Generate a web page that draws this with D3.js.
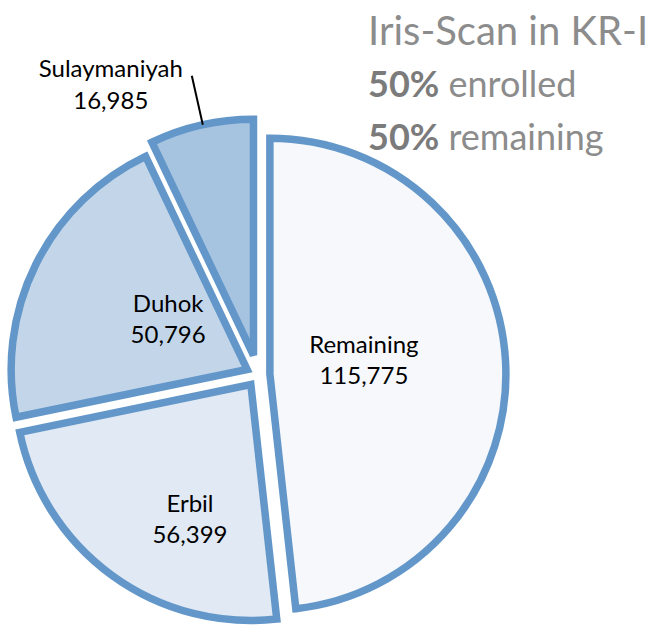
<!DOCTYPE html>
<html>
<head>
<meta charset="utf-8">
<script src="https://cdn.jsdelivr.net/npm/d3@7"></script>
<style>
  html, body { margin: 0; padding: 0; background: #ffffff; }
  svg { display: block; }
</style>
</head>
<body>
<svg id="chart" width="647" height="625"></svg>
<script>
// ---- data ----
const categories = ["Remaining", "Erbil", "Duhok", "Sulaymaniyah"];
const values = [115775, 56399, 50796, 16985];
const fills = ["#f6f8fc", "#e0e9f4", "#c3d6e9", "#a6c3e0"];
const titleLine = "Iris-Scan in KR-I";
const summaryPct = ["50%", "50%"];
const summaryText = ["enrolled", "remaining"];

// ---- layout ----
const W = 647, H = 625;
const center = [257.9, 374.8];
const radius = 236;
const explode = [12, 12, 12, 20];
const strokeColor = "#6397c9";
const strokeW = 7.5;
// label placement: fraction of radius and angle (deg, clockwise from 12 o'clock) from slice vertex
const labelPlace = [
  { frac: 0.403, angle: 81.2 },
  { frac: 0.627, angle: 204.3 },
  { frac: 0.397, angle: 302.5 },
  null
];

const svg = d3.select("#chart");
const fmt = d3.format(",");

const pie = d3.pie().sort(null).value(d => d.value);
const arcs = pie(categories.map((c, i) => ({ name: c, value: values[i], i })));
const arc = d3.arc().innerRadius(0).outerRadius(radius);

const toRad = Math.PI / 180;
function offset(angleRad, dist) {
  return [Math.sin(angleRad) * dist, -Math.cos(angleRad) * dist];
}

const g = svg.append("g").attr("transform", `translate(${center[0]},${center[1]})`);

const slices = g.selectAll("g.slice")
  .data(arcs)
  .join("g")
  .attr("class", "slice")
  .attr("transform", d => {
    const mid = (d.startAngle + d.endAngle) / 2;
    const [dx, dy] = offset(mid, explode[d.data.i]);
    return `translate(${dx},${dy})`;
  });

slices.append("path")
  .attr("d", arc)
  .attr("fill", d => fills[d.data.i])
  .attr("stroke", strokeColor)
  .attr("stroke-width", strokeW)
  .attr("stroke-linejoin", "miter");

const fontFam = "Lato, 'Open Sans', sans-serif";

// inside labels
slices.each(function(d) {
  const lp = labelPlace[d.data.i];
  if (!lp) return;
  const [lx, ly] = offset(lp.angle * toRad, lp.frac * radius);
  const t = d3.select(this).append("text")
    .attr("text-anchor", "middle")
    .attr("font-family", fontFam)
    .attr("font-size", 24)
    .attr("fill", "#000");
  t.append("tspan").attr("x", lx).attr("y", ly - 7).text(d.data.name);
  t.append("tspan").attr("x", lx).attr("y", ly + 24).text(fmt(d.data.value));
});

// outside label for Sulaymaniyah with leader line
{
  const d = arcs[3];
  const mid = (d.startAngle + d.endAngle) / 2;
  const [ex, ey] = offset(mid, explode[3]);
  const a = -12.4 * toRad;
  const [px, py] = offset(a, radius);
  const sx = center[0] + ex + px, sy = center[1] + ey + py;
  svg.append("line")
    .attr("x1", sx).attr("y1", sy)
    .attr("x2", sx - 11).attr("y2", sy - 49)
    .attr("stroke", "#000").attr("stroke-width", 2);
  const lx = sx - 92, ly = sy - 41;
  const t = svg.append("text")
    .attr("text-anchor", "middle")
    .attr("font-family", fontFam)
    .attr("font-size", 24)
    .attr("fill", "#000");
  t.append("tspan").attr("x", lx).attr("y", ly - 7).text(d.data.name);
  t.append("tspan").attr("x", lx).attr("y", ly + 25).text(fmt(d.data.value));
}

// title block
const tx = 368;
svg.append("text")
  .attr("x", tx).attr("y", 45)
  .attr("font-family", fontFam)
  .attr("font-size", 40)
  .attr("fill", "#8c8c8c")
  .text(titleLine);

summaryPct.forEach((p, i) => {
  const t = svg.append("text")
    .attr("x", tx).attr("y", 97 + i * 53)
    .attr("font-family", fontFam)
    .attr("font-size", 36)
    .attr("fill", "#8c8c8c");
  t.append("tspan").attr("font-weight", "bold").attr("fill", "#7b7b7b").text(p);
  t.append("tspan").text(" " + summaryText[i]);
});
</script>
</body>
</html>
